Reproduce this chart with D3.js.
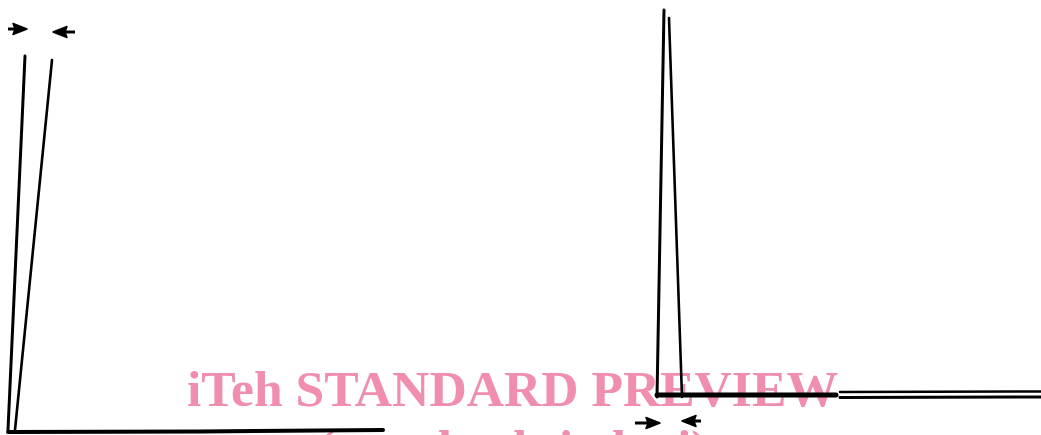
<!DOCTYPE html>
<html>
<head>
<meta charset="utf-8">
<script src="https://cdn.jsdelivr.net/npm/d3@7"></script>
<style>
  body { margin: 0; background: #fff; }
  svg { display: block; }
  .wm { mix-blend-mode: multiply; }
</style>
</head>
<body>
<div id="chart"></div>
<script>
// drawing units are the scan's own units (0..1041 across, 0..435 down)
var peakALeft = [[25, 56], [8, 430]];
var peakARight = [[52, 60], [15, 430]];
var baseA = [[8, 432], [200, 431.5], [383, 430]];
var peakBLeft = [[664, 10], [657, 397]];
var peakBRight = [[669, 18], [682, 397]];
var baseB = [[657, 395], [836, 395]];
var baseBUpper = [[840, 392], [1041, 391.5]];
var baseBLower = [[840, 397.5], [1041, 397]];
// arrows: [tail x, tip x, y]
var arrows = [[8, 27, 29], [75, 53, 32], [635, 660, 423], [701, 682, 421]];
var watermark = ['iTeh STANDARD PREVIEW', '(standards.iteh.ai)'];

var width = 1041;
var height = 435;

var svg = d3.select('#chart').append('svg')
  .attr('width', width)
  .attr('height', height);

var x = d3.scaleLinear().domain([0, 1041]).range([0, width]);
var y = d3.scaleLinear().domain([0, 435]).range([0, height]);

var line = d3.line()
  .x(function (d) { return x(d[0]); })
  .y(function (d) { return y(d[1]); });

function stroke(pts, w) {
  svg.append('path')
    .attr('d', line(pts))
    .attr('fill', 'none')
    .attr('stroke', '#000')
    .attr('stroke-width', w)
    .attr('stroke-linecap', 'round');
}

stroke(peakALeft, 3);
stroke(peakARight, 2.6);
stroke(baseA, 4);
stroke(peakBLeft, 3);
stroke(peakBRight, 2.6);
stroke(baseB, 5);
stroke(baseBUpper, 2.5);
stroke(baseBLower, 3);

// little dimension arrows, drawn as fat blobs like the scan
arrows.forEach(function (a) {
  var dir = a[1] > a[0] ? 1 : -1;
  var tip = x(a[1]), yy = y(a[2]);
  svg.append('line')
    .attr('x1', x(a[0])).attr('x2', tip - dir * 10)
    .attr('y1', yy).attr('y2', yy)
    .attr('stroke', '#000').attr('stroke-width', 3);
  svg.append('path')
    .attr('d', 'M' + tip + ',' + yy +
      'L' + (tip - dir * 14) + ',' + (yy - 5.5) +
      'L' + (tip - dir * 12) + ',' + yy +
      'L' + (tip - dir * 14) + ',' + (yy + 5.5) + 'Z')
    .attr('fill', '#000')
    .attr('stroke', '#000')
    .attr('stroke-width', 1.5)
    .attr('stroke-linejoin', 'round');
});

// pink watermark printed over the scan (multiplied, so the ink shows through dark)
svg.append('text')
  .attr('class', 'wm')
  .text(watermark[0])
  .attr('x', 187).attr('y', 406)
  .attr('textLength', 651)
  .attr('lengthAdjust', 'spacingAndGlyphs')
  .attr('font-family', 'Liberation Serif, Times New Roman, serif')
  .attr('font-weight', 'bold')
  .attr('font-size', 50)
  .attr('fill', '#ef8fad');

svg.append('text')
  .attr('class', 'wm')
  .text(watermark[1])
  .attr('x', 318).attr('y', 464)
  .attr('textLength', 390)
  .attr('lengthAdjust', 'spacingAndGlyphs')
  .attr('font-family', 'Liberation Serif, Times New Roman, serif')
  .attr('font-weight', 'bold')
  .attr('font-size', 48)
  .attr('fill', '#ef8fad');
</script>
</body>
</html>
